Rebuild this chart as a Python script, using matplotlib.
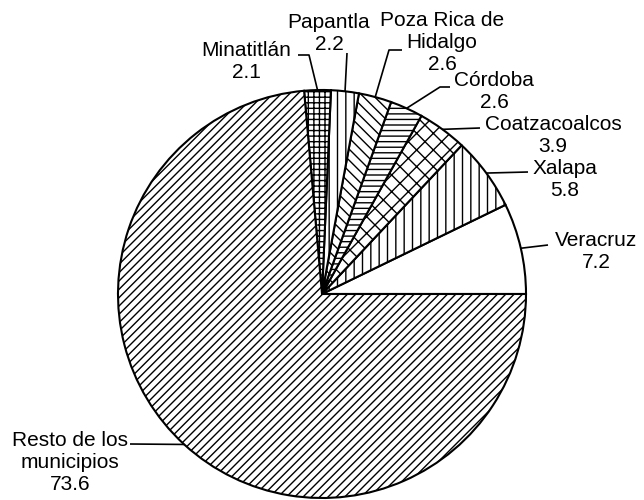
import numpy as np
import matplotlib
matplotlib.use("Agg")
import matplotlib.pyplot as plt

# Share by municipality (%)
labels = ["Veracruz", "Xalapa", "Coatzacoalcos", "Córdoba",
          "Poza Rica de\nHidalgo", "Papantla", "Minatitlán",
          "Resto de los\nmunicipios"]
values = [7.2, 5.8, 3.9, 2.6, 2.6, 2.2, 2.1, 73.6]

hatches = ["", "||", "xx", "---", "\\\\\\", "||", "+++", "////"]

plt.rcParams["font.family"] = ["Liberation Sans", "DejaVu Sans"]
plt.rcParams["hatch.linewidth"] = 1.0

W, H = 644, 500
CX, CY, R = 322, 294, 204  # pie centre and radius in pixels


def px(x, y):
    # pixel position -> data units (pie radius = 1)
    return (x - CX) / R, (CY - y) / R


fig = plt.figure(figsize=(W / 100, H / 100), dpi=100)
ax = fig.add_axes([0, 0, 1, 1])

wedges, _ = ax.pie(values, startangle=0, counterclock=True, radius=1,
                   colors=["white"] * len(values),
                   wedgeprops=dict(edgecolor="black", linewidth=1.5))
for w, h in zip(wedges, hatches):
    w.set_hatch(h)

# pie() resets limits, so set them afterwards
ax.set_xlim(-CX / R, (W - CX) / R)
ax.set_ylim(-(H - CY) / R, CY / R)
ax.set_aspect("equal")
ax.axis("off")

# leader path (pixel points after the rim) and label centre, per slice
layout = [
    ([(548, 245)], (596, 251)),
    ([(528, 172)], (565, 179)),
    ([(480, 128)], (553, 135)),
    ([(440, 87), (450, 87)], (494, 92)),
    ([(389, 50), (402, 50)], (442, 43)),
    ([(347, 53)], (329, 34)),
    ([(309, 55), (298, 55)], (246, 62)),
    ([(130, 444)], (70, 463)),
]

for w, lab, val, (path, tpos) in zip(wedges, labels, values, layout):
    ang = np.deg2rad((w.theta1 + w.theta2) / 2)
    xs = [np.cos(ang)] + [px(*p)[0] for p in path]
    ys = [np.sin(ang)] + [px(*p)[1] for p in path]
    ax.plot(xs, ys, color="black", lw=1.2, solid_capstyle="butt")
    tx, ty = px(*tpos)
    ax.text(tx, ty, f"{lab}\n{val}", ha="center", va="center",
            fontsize=15, linespacing=1.2)

fig.savefig("out.png", dpi=100)
